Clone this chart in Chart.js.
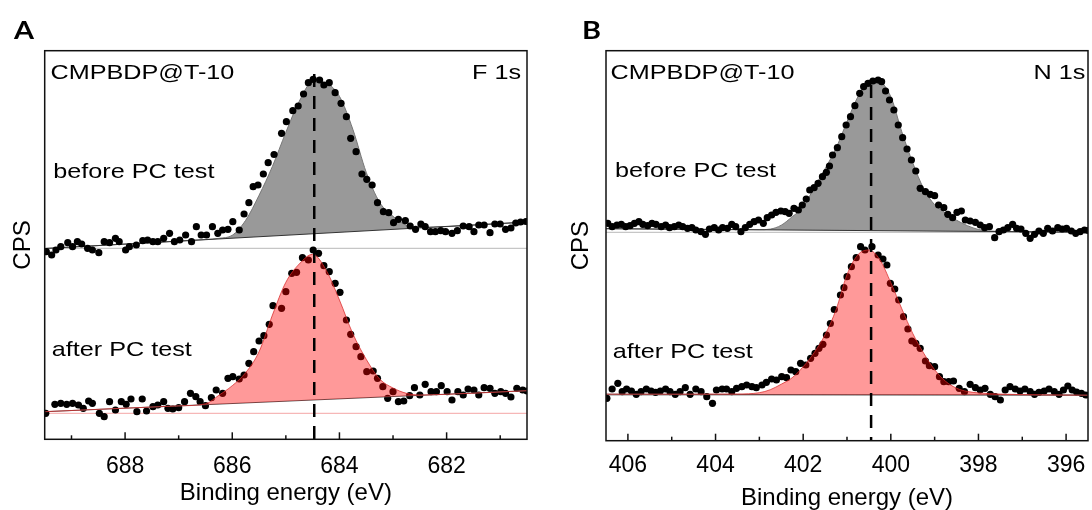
<!DOCTYPE html>
<html>
<head>
<meta charset="utf-8">
<script src="https://cdn.jsdelivr.net/npm/chart.js@4.4.1/dist/chart.umd.min.js"></script>
<style>
  body { margin: 0; background: #fff; }
  #wrap { position: relative; width: 1092px; height: 510px; }
  canvas { position: absolute; top: 0; }
  #panel-f { left: 0; }
  #panel-n { left: 546px; }
</style>
</head>
<body>
<div id="wrap">
  <canvas id="panel-f" width="546" height="510"></canvas>
  <canvas id="panel-n" width="546" height="510"></canvas>
</div>
<script>
// ---- F 1s (panel A) ----
const fBeforeEnergy = [689.47, 689.37, 689.29, 689.20, 689.07, 688.98, 688.89, 688.81, 688.70, 688.61,
  688.49, 688.39, 688.29, 688.18, 688.11, 687.99, 687.92, 687.79, 687.67, 687.58,
  687.48, 687.39, 687.28, 687.17, 687.08, 686.98, 686.87, 686.76, 686.67, 686.58,
  686.48, 686.37, 686.27, 686.18, 686.08, 685.99, 685.87, 685.78, 685.69, 685.61,
  685.52, 685.42, 685.33, 685.22, 685.08, 684.99, 684.87, 684.77, 684.67, 684.58,
  684.49, 684.37, 684.29, 684.19, 684.08, 683.97, 683.87, 683.79, 683.69, 683.58,
  683.49, 683.39, 683.29, 683.18, 683.08, 682.99, 682.90, 682.77, 682.68, 682.58,
  682.48, 682.40, 682.30, 682.21, 682.11, 682.02, 681.90, 681.80, 681.69, 681.58,
  681.49, 681.40, 681.30, 681.19, 681.10, 681.00, 680.90, 680.80, 680.71, 680.62, 680.52];
const fBeforeCps = [187.6, 184.3, 189.3, 192.6, 196.6, 192.6, 197.6, 195.3, 191, 189.3,
  186.6, 197.6, 196.6, 201, 197.6, 189.3, 192.6, 194.3, 198.6, 199.3,
  197.6, 197.6, 201, 206, 197.6, 199.3, 204.3, 197.6, 212.6, 204.3,
  204.3, 212.6, 206, 209.3, 210, 217.6, 209.3, 225.3, 236.6, 252.6,
  254.3, 265.3, 276.6, 284.8, 306, 317.6, 328.6, 333.3, 345.3, 356.6,
  360, 359.3, 354.3, 356.6, 346.6, 336, 322.6, 301, 287.6, 265.3,
  260, 254.3, 236.6, 227.6, 226.6, 216.6, 220, 218.6, 213.3, 210,
  215.3, 212.6, 207.6, 207.6, 208.6, 207.6, 206, 208.6, 213.3, 212.6,
  207.6, 214.3, 214.3, 206.6, 215.3, 215.3, 210, 211.3, 216.3, 217.3, 217.8];

const fAfterEnergy = [689.48, 689.31, 689.20, 689.09, 688.98, 688.87, 688.78, 688.68, 688.61, 688.48,
  688.39, 688.29, 688.18, 688.07, 687.98, 687.89, 687.78, 687.68, 687.60, 687.48,
  687.39, 687.28, 687.20, 687.11, 687.00, 686.89, 686.78, 686.68, 686.60, 686.50,
  686.39, 686.30, 686.18, 686.08, 685.99, 685.87, 685.78, 685.69, 685.60, 685.50,
  685.41, 685.31, 685.24, 685.08, 685.00, 684.89, 684.80, 684.69, 684.58, 684.49,
  684.39, 684.29, 684.19, 684.08, 683.99, 683.87, 683.79, 683.69, 683.60, 683.49,
  683.37, 683.29, 683.19, 683.10, 683.00, 682.90, 682.80, 682.69, 682.60, 682.50,
  682.40, 682.29, 682.19, 682.10, 681.99, 681.90, 681.79, 681.69, 681.60, 681.49,
  681.40, 681.30, 681.19, 681.10, 680.99, 680.90, 680.80, 680.69, 680.58, 680.50];
const fAfterCps = [26, 35, 36, 35, 36, 34.3, 31, 38.3, 36, 26,
  22.6, 37.6, 29.3, 37.6, 35, 40.3, 27.6, 40.3, 28.3, 32.6,
  34.3, 37.6, 31, 30.3, 31.6, 37.6, 46, 42.6, 37.6, 33.6,
  41.6, 49.3, 46, 61, 62.6, 60.3, 64.3, 76, 87.6, 98.3,
  103.6, 115, 133.6, 131, 147.6, 166, 167, 181.6, 179.3, 189.3,
  186, 173.6, 167.6, 156, 147, 119.3, 105, 92.6, 82.6, 67.6,
  68.3, 61, 52.6, 41, 47.6, 37.6, 38.3, 43.6, 51.6, 44.3,
  55, 47.6, 47.6, 53.6, 47.6, 39.3, 47.6, 44.3, 50.3, 49.3,
  44.3, 51.6, 51, 46, 47.6, 46, 42.3, 51, 49.3, 48.3];

const fFitEnergy = [689.5, 687, 686.5, 686.25, 686, 685.75, 685.5, 685.25, 685, 684.75, 684.5,
  684.25, 684, 683.75, 683.5, 683.25, 683, 682.75, 682.5, 682, 680.5];
const fBeforeFit = [190.8, 198.2, 199.8, 201, 204, 219, 244, 273, 307, 338, 357.5,
  356, 343, 310, 267, 237, 223, 214, 212, 212.7, 217.3];
const fAfterFit = [27.6, 33.4, 35.5, 44, 53.6, 66.6, 87.6, 124.3, 157, 175.3, 185,
  169.3, 139.3, 105.6, 80, 60.3, 51.3, 46, 44.3, 45, 48.6];

const fBgEnergy = [689.5, 680.5];
const fBeforeBg = [190.8, 217.3];
const fAfterBg = [27.6, 48.6];
const fBaselines = [191, 26];
const fPeakEnergy = 684.47;
const fTickValues = [681, 682, 683, 684, 685, 686, 687, 688, 689];
const fTickLabels = [682, 684, 686, 688];

// ---- N 1s (panel B) ----
const nBeforeEnergy = [406.46, 406.36, 406.25, 406.15, 406.05, 405.95, 405.85, 405.75, 405.66, 405.55,
  405.45, 405.36, 405.24, 405.14, 405.05, 404.94, 404.84, 404.75, 404.64, 404.54,
  404.45, 404.33, 404.23, 404.14, 404.03, 403.93, 403.84, 403.73, 403.63, 403.54,
  403.42, 403.32, 403.22, 403.12, 403.02, 402.91, 402.82, 402.72, 402.62, 402.51,
  402.41, 402.32, 402.21, 402.11, 402.02, 401.93, 401.85, 401.75, 401.66, 401.56,
  401.47, 401.40, 401.33, 401.22, 401.12, 401.02, 400.92, 400.82, 400.71, 400.62,
  400.52, 400.41, 400.29, 400.21, 400.12, 400.03, 399.93, 399.83, 399.73, 399.63,
  399.53, 399.43, 399.33, 399.21, 399.10, 399.00, 398.91, 398.79, 398.70, 398.59,
  398.49, 398.39, 398.30, 398.19, 398.07, 397.96, 397.86, 397.75, 397.63, 397.53,
  397.43, 397.33, 397.22, 397.13, 397.03, 396.92, 396.82, 396.72, 396.62, 396.52,
  396.42, 396.31, 396.19, 396.09, 395.99, 395.88, 395.78, 395.68, 395.58, 395.50];
const nBeforeCps = [217.4, 214, 215.7, 216.4, 214, 215, 217.4, 219, 216.4, 215,
  217.4, 216.4, 214, 215.7, 213, 214, 215.7, 214, 212.4, 213,
  210.7, 209, 206.4, 211.7, 213, 210.7, 213, 212.4, 216.4, 214,
  209, 213, 216.4, 219, 220.7, 217.4, 223, 225.7, 228.4, 229.7,
  229, 227.4, 232.4, 230.7, 235.7, 241.7, 250.7, 253, 257.4, 264,
  268.4, 274.7, 285.7, 293, 304, 315.7, 324, 335, 347.4, 354,
  357.4, 359.7, 360.7, 359, 349.7, 340.7, 330.7, 315.7, 303, 291.7,
  280.7, 269.7, 252.4, 249, 246.4, 245, 235.7, 233, 226.4, 223,
  228.4, 229.7, 220.7, 219.7, 218.4, 215.7, 213, 214, 203, 209,
  210.7, 213, 216.4, 212.4, 211.7, 207.4, 202.4, 206.4, 209.7, 207.4,
  212.4, 209.7, 213, 211.7, 212.4, 209.7, 207.4, 209, 210.7, 210.2];

const nAfterEnergy = [406.48, 406.36, 406.23, 406.13, 406.03, 405.92, 405.81, 405.70, 405.58, 405.47,
  405.37, 405.26, 405.14, 405.04, 404.92, 404.81, 404.69, 404.58, 404.45, 404.33,
  404.20, 404.07, 403.98, 403.85, 403.75, 403.63, 403.52, 403.40, 403.29, 403.17,
  403.07, 402.94, 402.84, 402.72, 402.61, 402.49, 402.38, 402.28, 402.17, 402.06,
  401.94, 401.83, 401.73, 401.64, 401.55, 401.47, 401.38, 401.29, 401.15, 401.07,
  401.00, 400.90, 400.79, 400.69, 400.59, 400.43, 400.29, 400.18, 400.09, 400.01,
  399.91, 399.82, 399.71, 399.61, 399.52, 399.43, 399.33, 399.21, 399.12, 399.00,
  398.89, 398.79, 398.68, 398.57, 398.44, 398.32, 398.19, 398.07, 397.96, 397.85,
  397.73, 397.62, 397.50, 397.39, 397.28, 397.16, 397.05, 396.94, 396.82, 396.72,
  396.62, 396.50, 396.39, 396.27, 396.16, 396.06, 395.96, 395.86, 395.76, 395.65, 395.55];
const nAfterCps = [42.4, 51.7, 57.4, 49, 51.7, 49.7, 46.4, 49, 51.7, 49.7,
  48.4, 49.7, 51.7, 49, 46.4, 49, 53, 46.4, 51.7, 49,
  44, 37.4, 50.7, 51.7, 51.7, 49, 52.4, 54, 55.7, 54,
  53, 55.7, 58.4, 61.7, 60.7, 64, 63, 70.7, 69, 77.4,
  75.7, 82.4, 87.4, 92.4, 96.4, 105.7, 117.2, 131.2, 145.7, 153,
  164, 174, 183, 194, 190.7, 194, 185.7, 181.7, 175.7, 157.4,
  151.7, 140.7, 124, 111.7, 99.7, 97.4, 92.4, 79.7, 75, 74,
  64, 59, 59, 59.7, 52.4, 49, 56.4, 53, 50.7, 52.4,
  46.4, 44, 40.7, 50.7, 54, 51.7, 49.7, 51.7, 49, 46.4,
  48.4, 49.7, 51.7, 49, 46.4, 50.7, 54.7, 50.7, 48.7, 47.4, 45.7];

const nFitEnergy = [406.5, 403.5, 403, 402.75, 402.5, 402.25, 402, 401.75, 401.5, 401.25, 401,
  400.75, 400.5, 400.25, 400, 399.75, 399.5, 399.25, 399, 398.75, 398.5, 398.25, 398, 397.5, 395.5];
const nBeforeFit = [212, 211.1, 211, 211.6, 215.5, 224, 233.5, 253, 272, 292.5, 319,
  344, 357.5, 358, 344, 309, 278, 252, 236, 227.5, 220.5, 215, 211.2, 209.3, 208.5];
const nAfterFit = [46.5, 46.7, 48, 51, 56.5, 63, 74, 88, 106, 131, 166,
  186, 190.7, 181, 158, 132, 107.3, 87.5, 71, 59.4, 52.5, 49.2, 47.8, 46.6, 45.5];

const nBgEnergy = [406.5, 395.5];
const nBeforeBg = [212, 208.5];
const nAfterBg = [46.5, 45.5];
const nBaselines = [208.4, 45.7];
const nPeakEnergy = 400.45;
const nTickValues = [396, 397, 398, 399, 400, 401, 402, 403, 404, 405, 406];
const nTickLabels = [396, 398, 400, 402, 404, 406];

Chart.defaults.font.family = '"Liberation Sans", Arial, sans-serif';
Chart.defaults.color = '#000';

const pts = (xs, ys) => xs.map((x, i) => ({ x, y: ys[i] }));

function drawPanel(id, p) {
    const frame = {
        id: 'frame',
        afterDatasetsDraw(chart) {
            const { ctx, chartArea: a, scales: { x } } = chart;
            ctx.save();
            ctx.strokeStyle = '#111';
            ctx.lineWidth = 1.5;
            ctx.strokeRect(a.left, a.top, a.right - a.left, a.bottom - a.top);
            x.ticks.forEach(t => {
                const px = x.getPixelForValue(t.value);
                const len = p.tickLabels.includes(t.value) ? 7 : 4;
                ctx.beginPath();
                ctx.moveTo(px, a.bottom);
                ctx.lineTo(px, a.bottom - len);
                ctx.stroke();
            });
            ctx.fillStyle = '#000';
            ctx.textBaseline = 'alphabetic';
            p.notes.forEach(n => {
                ctx.save();
                ctx.font = n.font || '21px "Liberation Sans", Arial, sans-serif';
                ctx.textAlign = n.align || 'left';
                ctx.translate(n.x, n.y);
                ctx.scale(1.2, 1);
                ctx.fillText(n.text, 0, 0);
                ctx.restore();
            });
            ctx.restore();
        }
    };

    const line = (data, color, order, extra) => Object.assign({
        data, borderColor: color, borderWidth: 1, pointRadius: 0, fill: false, order
    }, extra || {});
    const dots = (data, order) => ({
        data, showLine: false, pointRadius: 3.6, pointBackgroundColor: '#000',
        pointBorderWidth: 0, borderColor: '#000', order
    });

    new Chart(document.getElementById(id).getContext('2d'), {
        type: 'line',
        data: {
            datasets: [
                line(pts(p.bgEnergy, [p.baselines[0], p.baselines[0]]), '#b8b8b8', 6),
                line(pts(p.bgEnergy, p.beforeBg), '#333', 4),
                line(pts(p.fitEnergy, p.beforeFit), '#777', 5, {
                    fill: { target: 1 }, backgroundColor: '#999999', cubicInterpolationMode: 'monotone'
                }),
                dots(pts(p.beforeEnergy, p.beforeCps), 3),
                line(pts(p.bgEnergy, [p.baselines[1], p.baselines[1]]), p.afterBaseColor, 6),
                line(pts(p.bgEnergy, p.afterBg), '#555', 2),
                dots(pts(p.afterEnergy, p.afterCps), 3),
                line(pts(p.fitEnergy, p.afterFit), 'rgba(215,40,40,0.75)', 1, {
                    fill: { target: 5 }, backgroundColor: 'rgba(255,0,0,0.4)', cubicInterpolationMode: 'monotone'
                }),
                line(pts([p.peak, p.peak], [p.dashTop, 0]), '#000', 0, {
                    borderWidth: 2.5, borderDash: [13, 9]
                })
            ]
        },
        options: {
            responsive: false,
            animation: false,
            devicePixelRatio: 1,
            layout: { padding: { left: 0, top: 50.7, right: p.padRight, bottom: 0 } },
            plugins: { legend: { display: false }, tooltip: { enabled: false } },
            scales: {
                x: {
                    type: 'linear', reverse: true, min: p.xMin, max: p.xMax,
                    grid: { display: false, drawTicks: false },
                    border: { display: false },
                    afterBuildTicks: s => { s.ticks = p.tickValues.map(v => ({ value: v })); },
                    ticks: {
                        autoSkip: false, maxRotation: 0, padding: p.tickPad,
                        font: { size: 23 },
                        callback: v => p.tickLabels.includes(v) ? String(v) : ''
                    },
                    title: {
                        display: true, text: 'Binding energy (eV)', font: { size: 24 },
                        padding: { top: 0, bottom: p.titlePad }
                    },
                    afterFit: s => { s.height = p.axisHeight; }
                },
                y: {
                    min: 0, max: p.yMax,
                    grid: { display: false, drawTicks: false },
                    border: { display: false },
                    ticks: { display: false },
                    title: { display: true, text: 'CPS', font: { size: 24 }, padding: { top: p.cpsPad, bottom: 0 } },
                    afterFit: s => { s.width = p.axisWidth; }
                }
            }
        },
        plugins: [frame]
    });
}

drawPanel('panel-f', {
    beforeEnergy: fBeforeEnergy, beforeCps: fBeforeCps,
    afterEnergy: fAfterEnergy, afterCps: fAfterCps,
    fitEnergy: fFitEnergy, beforeFit: fBeforeFit, afterFit: fAfterFit,
    bgEnergy: fBgEnergy, beforeBg: fBeforeBg, afterBg: fAfterBg,
    baselines: fBaselines, afterBaseColor: '#f4a6a6',
    peak: fPeakEnergy, dashTop: 365.3,
    tickValues: fTickValues, tickLabels: fTickLabels,
    xMin: 680.5, xMax: 689.5, yMax: 388.6,
    padRight: 19, axisWidth: 44.7, axisHeight: 70.7,
    tickPad: 13.6, titlePad: 2, cpsPad: 9,
    notes: [
        { text: 'A', x: 14, y: 38.5, font: 'bold 24px Lato, "Liberation Sans", sans-serif' },
        { text: 'CMPBDP@T-10', x: 50.5, y: 78.5 },
        { text: 'F 1s', x: 521, y: 78.5, align: 'right' },
        { text: 'before PC test', x: 53.3, y: 178.3 },
        { text: 'after PC test', x: 51.7, y: 355.7 }
    ]
});

drawPanel('panel-n', {
    beforeEnergy: nBeforeEnergy, beforeCps: nBeforeCps,
    afterEnergy: nAfterEnergy, afterCps: nAfterCps,
    fitEnergy: nFitEnergy, beforeFit: nBeforeFit, afterFit: nAfterFit,
    bgEnergy: nBgEnergy, beforeBg: nBeforeBg, afterBg: nAfterBg,
    baselines: nBaselines, afterBaseColor: '#8c8c8c',
    peak: nPeakEnergy, dashTop: 355.7,
    tickValues: nTickValues, tickLabels: nTickLabels,
    xMin: 395.5, xMax: 406.5, yMax: 390,
    padRight: 2.2, axisWidth: 60, axisHeight: 69.3,
    tickPad: 11.2, titlePad: -3.2, cpsPad: 21.2,
    notes: [
        { text: 'B', x: 36, y: 38.5, font: 'bold 24px Lato, "Liberation Sans", sans-serif' },
        { text: 'CMPBDP@T-10', x: 64.6, y: 78.5 },
        { text: 'N 1s', x: 539.3, y: 78.5, align: 'right' },
        { text: 'before PC test', x: 69, y: 176.7 },
        { text: 'after PC test', x: 66.7, y: 358.3 }
    ]
});
</script>
</body>
</html>
